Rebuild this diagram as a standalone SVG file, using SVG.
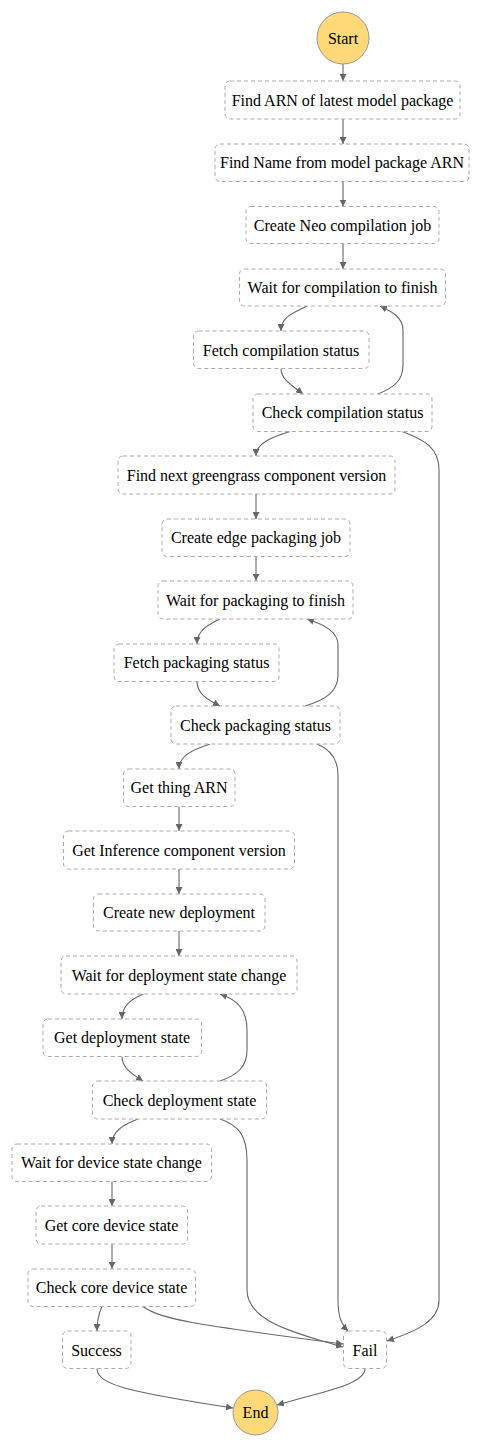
<svg xmlns="http://www.w3.org/2000/svg" width="482" height="1448" viewBox="0 0 482 1448">
<style>
.n rect{fill:#fff;stroke:#aaa;stroke-width:1;stroke-dasharray:4 3}
.c circle{fill:#ffd878;stroke:#999;stroke-width:1}
text{font-family:"Liberation Serif","Times New Roman",serif;font-size:16px;fill:#000;text-anchor:middle;dominant-baseline:central}
#edges path{fill:none;stroke:#666;stroke-width:1.1;marker-end:url(#ah)}
</style>
<defs>
<marker id="ah" viewBox="0 0 10 10" refX="10" refY="5" markerWidth="7" markerHeight="7" markerUnits="userSpaceOnUse" orient="auto">
<path d="M0,0 L10,5 L0,10 z" fill="#666"/>
</marker>
</defs>
<rect width="482" height="1448" fill="#fff"/>
<g id="edges">
<path d="M343,64 L343,81"/>
<path d="M343,119 L343,144"/>
<path d="M343,181.5 L343,206.5"/>
<path d="M343,243.5 L343,269"/>
<path d="M307,306 C290,314 281,318 281,331"/>
<path d="M281,368.5 C281,380 293,386 303,394"/>
<path d="M378,394 C395,387 403,380 403,365 L403,330 C403,318 393,312 380,306"/>
<path d="M290,431.5 C272,437 256,443 256,456"/>
<path d="M402,431.5 C425,440 439,448 439,470 L439,1300 C439,1320 420,1330 387,1341"/>
<path d="M256,494 L256,519"/>
<path d="M256,556.5 L256,581"/>
<path d="M220,619 C205,626 197,632 197,644"/>
<path d="M197,681.5 C197,694 208,700 220,706"/>
<path d="M305,706 C325,700 338,692 338,675 L338,645 C338,632 325,625 307,619"/>
<path d="M210,744 C192,750 179,756 179,769"/>
<path d="M317,744 C332,750 338,760 338,775 L338,1300 C338,1318 342,1325 348,1331"/>
<path d="M179,806.5 L179,831"/>
<path d="M179,869 L179,894"/>
<path d="M179,931 L179,956"/>
<path d="M143,994 C130,1000 122,1006 122,1019"/>
<path d="M122,1056.5 C122,1068 132,1074 143,1081"/>
<path d="M220,1081 C238,1075 247,1066 247,1050 L247,1030 C247,1010 238,1000 220,994"/>
<path d="M138,1119 C122,1125 112,1132 112,1144"/>
<path d="M220,1119 C238,1125 247,1135 247,1160 L247,1290 C247,1320 290,1332 343,1347"/>
<path d="M112,1181.5 L112,1206"/>
<path d="M112,1244 L112,1269"/>
<path d="M102,1306.5 C98,1315 97,1322 97,1331"/>
<path d="M143,1306.5 C160,1320 200,1325 343,1344"/>
<path d="M97,1368.5 C97,1385 130,1392 233,1408"/>
<path d="M365,1368.5 C365,1385 320,1392 277,1405"/>
</g>
<g id="start" class="c"><circle cx="343" cy="38" r="26"/><text x="343" y="38">Start</text></g>
<g id="findArn" class="n"><rect x="225" y="81" width="235" height="38" rx="5"/><text x="342.5" y="100">Find ARN of latest model package</text></g>
<g id="findName" class="n"><rect x="215" y="144" width="254" height="37.5" rx="5"/><text x="342" y="162.5">Find Name from model package ARN</text></g>
<g id="createNeo" class="n"><rect x="246" y="206.5" width="193" height="37" rx="5"/><text x="342.5" y="225">Create Neo compilation job</text></g>
<g id="waitComp" class="n"><rect x="239.5" y="269" width="206" height="37" rx="5"/><text x="342.5" y="287.5">Wait for compilation to finish</text></g>
<g id="fetchComp" class="n"><rect x="193.5" y="331" width="175.5" height="37.5" rx="5"/><text x="281" y="350">Fetch compilation status</text></g>
<g id="checkComp" class="n"><rect x="253" y="394" width="179" height="37.5" rx="5"/><text x="342.5" y="412.5">Check compilation status</text></g>
<g id="findNext" class="n"><rect x="118" y="456" width="277" height="38" rx="5"/><text x="256.5" y="475">Find next greengrass component version</text></g>
<g id="createEdge" class="n"><rect x="162" y="519" width="188" height="37.5" rx="5"/><text x="256" y="537.5">Create edge packaging job</text></g>
<g id="waitPkg" class="n"><rect x="158" y="581" width="195" height="38" rx="5"/><text x="255.5" y="600">Wait for packaging to finish</text></g>
<g id="fetchPkg" class="n"><rect x="114" y="644" width="165" height="37.5" rx="5"/><text x="196.5" y="662.5">Fetch packaging status</text></g>
<g id="checkPkg" class="n"><rect x="171" y="706" width="169" height="38" rx="5"/><text x="255.5" y="725">Check packaging status</text></g>
<g id="thingArn" class="n"><rect x="123.5" y="769" width="111.5" height="37.5" rx="5"/><text x="179" y="787.5">Get thing ARN</text></g>
<g id="getInf" class="n"><rect x="63.5" y="831" width="231" height="38" rx="5"/><text x="179" y="850">Get Inference component version</text></g>
<g id="createDep" class="n"><rect x="93.5" y="894" width="171.5" height="37" rx="5"/><text x="179" y="912.5">Create new deployment</text></g>
<g id="waitDep" class="n"><rect x="61" y="956" width="236" height="38" rx="5"/><text x="179" y="975">Wait for deployment state change</text></g>
<g id="getDep" class="n"><rect x="43" y="1019" width="158.5" height="37.5" rx="5"/><text x="122" y="1037.5">Get deployment state</text></g>
<g id="checkDep" class="n"><rect x="92.5" y="1081" width="174" height="38" rx="5"/><text x="179.5" y="1100">Check deployment state</text></g>
<g id="waitDev" class="n"><rect x="12" y="1144" width="199.5" height="37.5" rx="5"/><text x="111.5" y="1162.5">Wait for device state change</text></g>
<g id="getCore" class="n"><rect x="36" y="1206" width="151.5" height="38" rx="5"/><text x="111.5" y="1225">Get core device state</text></g>
<g id="checkCore" class="n"><rect x="28" y="1269" width="167.5" height="37.5" rx="5"/><text x="111.5" y="1287.5">Check core device state</text></g>
<g id="success" class="n"><rect x="62.5" y="1331" width="68.5" height="37.5" rx="5"/><text x="96.5" y="1350">Success</text></g>
<g id="fail" class="n"><rect x="343.5" y="1331" width="43" height="37.5" rx="5"/><text x="365" y="1350">Fail</text></g>
<g id="end" class="c"><circle cx="255.5" cy="1412.5" r="22.5"/><text x="255.5" y="1412.5">End</text></g>
</svg>
